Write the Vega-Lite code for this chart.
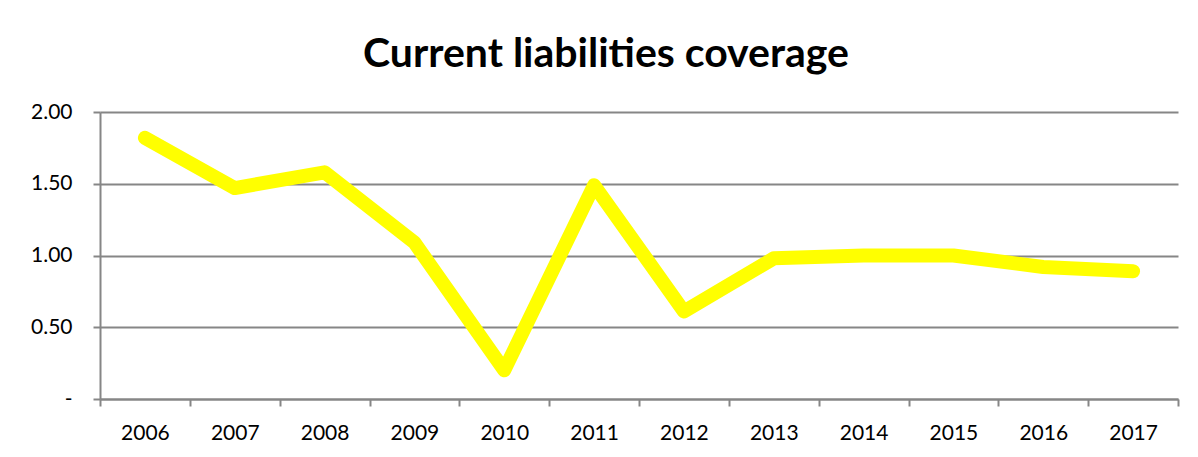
{
  "$schema": "https://vega.github.io/schema/vega-lite/v6.json",
  "width": 1078,
  "height": 287,
  "autosize": {"type": "none"},
  "padding": {"left": 100, "top": 112, "right": 20, "bottom": 58},
  "background": "white",
  "title": {
    "text": "Current liabilities coverage",
    "font": "Lato",
    "fontSize": 41,
    "fontWeight": "bold",
    "color": "black",
    "anchor": "middle",
    "dx": -33,
    "dy": 42,
    "offset": 35,
    "baseline": "alphabetic"
  },
  "data": {
    "values": [
      {"year": "2006", "value": 1.82},
      {"year": "2007", "value": 1.47},
      {"year": "2008", "value": 1.58},
      {"year": "2009", "value": 1.09},
      {"year": "2010", "value": 0.2},
      {"year": "2011", "value": 1.49},
      {"year": "2012", "value": 0.61},
      {"year": "2013", "value": 0.98},
      {"year": "2014", "value": 1.0},
      {"year": "2015", "value": 1.0},
      {"year": "2016", "value": 0.92},
      {"year": "2017", "value": 0.89}
    ]
  },
  "mark": {"type": "line", "color": "#FFFF00", "strokeWidth": 14, "strokeCap": "round", "strokeJoin": "round"},
  "encoding": {
    "x": {
      "field": "year",
      "type": "ordinal",
      "scale": {"type": "band", "paddingInner": 0, "paddingOuter": 0},
      "axis": {
        "title": null,
        "labelAngle": 0,
        "tickBand": "extent",
        "labelFont": "Lato",
        "labelFontSize": 21,
        "labelColor": "black",
        "domainColor": "#868686",
        "domainWidth": 2,
        "tickColor": "#868686",
        "tickWidth": 2,
        "tickSize": 7,
        "labelPadding": 16,
        "grid": false
      }
    },
    "y": {
      "field": "value",
      "type": "quantitative",
      "scale": {"domain": [0, 2], "nice": false, "zero": true},
      "axis": {
        "title": null,
        "values": [0, 0.5, 1, 1.5, 2],
        "labelExpr": "datum.value == 0 ? '-\u00a0\u00a0\u00a0' : format(datum.value, '.2f')",
        "labelFont": "Lato",
        "labelFontSize": 21,
        "labelColor": "black",
        "domainColor": "#868686",
        "domainWidth": 2,
        "tickColor": "#868686",
        "tickWidth": 2,
        "tickSize": 7,
        "labelPadding": 21,
        "grid": true,
        "gridColor": "#868686",
        "gridWidth": 2
      }
    }
  },
  "config": {"view": {"stroke": null}}
}
